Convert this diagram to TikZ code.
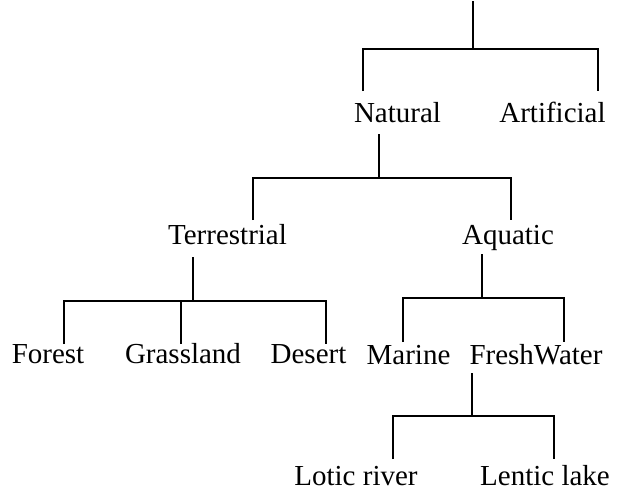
\documentclass[tikz,border=0pt]{standalone}
\usepackage{fontspec}
\setmainfont{Liberation Serif}
\usetikzlibrary{calc}

\begin{document}
\begin{tikzpicture}[
  x=0.75pt, y=-0.75pt,
  tree/.style={line width=1.3pt, draw=black},
  lbl/.style={anchor=base, inner sep=0pt, font=\fontsize{21.75}{26}\selectfont}
]
\useasboundingbox (0,0) rectangle (618,490);

% labels
\node[lbl] (nat) at (397.5,122) {Natural};
\node[lbl] (art) at (552.5,122) {Artificial};
\node[lbl] (ter) at (227.5,244) {Terrestrial};
\node[lbl] (aqu) at (508,244) {Aquatic};
\node[lbl] (for) at (48,363) {Forest};
\node[lbl] (gra) at (183,363) {Grassland};
\node[lbl] (des) at (308.5,363) {Desert};
\node[lbl] (mar) at (408.5,364) {Marine};
\node[lbl] (fre) at (536,364) {FreshWater};
\node[lbl] (lot) at (356,485) {Lotic river};
\node[lbl] (len) at (545,485) {Lentic lake};

% joints of the tree
\coordinate (top) at (473,1);
\coordinate (j0) at (473,49);
\coordinate (natin) at (363,91);
\coordinate (artin) at (598,91);

\coordinate (natout) at (379,134);
\coordinate (j1) at (379,178);
\coordinate (terin) at (253,220);
\coordinate (aquin) at (511,220);

\coordinate (terout) at (193,257);
\coordinate (j2) at (193,301);
\coordinate (forin) at (64,344);
\coordinate (grain) at (181,344);
\coordinate (desin) at (326,344);

\coordinate (aquout) at (482,254);
\coordinate (j3) at (482,298);
\coordinate (marin) at (403,342);
\coordinate (frein) at (564,342);

\coordinate (freout) at (472,373);
\coordinate (j4) at (472,416);
\coordinate (lotin) at (393,459);
\coordinate (lenin) at (554,459);

% branches
\draw[tree] (top) -- (j0);
\draw[tree] (natin) |- (j0) -| (artin);

\draw[tree] (natout) -- (j1);
\draw[tree] (terin) |- (j1) -| (aquin);

\draw[tree] (terout) -- (j2);
\draw[tree] (forin) |- (j2) -| (desin);
\draw[tree] (grain) -- (grain |- j2);

\draw[tree] (aquout) -- (j3);
\draw[tree] (marin) |- (j3) -| (frein);

\draw[tree] (freout) -- (j4);
\draw[tree] (lotin) |- (j4) -| (lenin);

\end{tikzpicture}
\end{document}
